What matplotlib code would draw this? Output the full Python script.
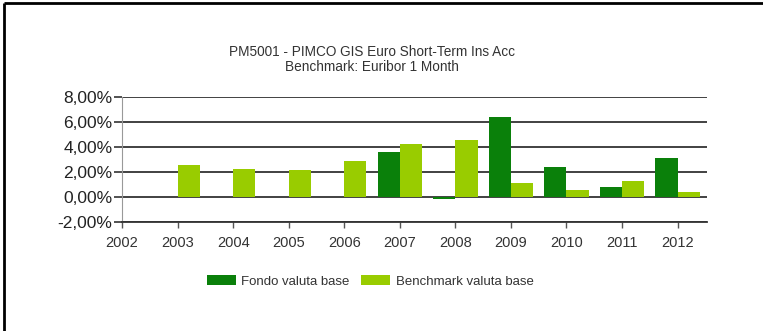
import numpy as np
import matplotlib
matplotlib.use("Agg")
import matplotlib.pyplot as plt
from matplotlib.lines import Line2D

# values in percent
years = [2002, 2003, 2004, 2005, 2006, 2007, 2008, 2009, 2010, 2011, 2012]
fondo = [np.nan, np.nan, np.nan, np.nan, np.nan, 3.64, -0.18, 6.37, 2.43, 0.78, 3.16]
benchmark = [np.nan, 2.57, 2.22, 2.17, 2.92, 4.26, 4.58, 1.15, 0.56, 1.29, 0.43]
yticks = [-2, 0, 2, 4, 6, 8]

title = "PM5001 - PIMCO GIS Euro Short-Term Ins Acc\nBenchmark: Euribor 1 Month"
labels = ["Fondo valuta base", "Benchmark valuta base"]
dark = "#0a800a"
light = "#99cc00"

plt.rcParams["font.family"] = ["Liberation Sans", "DejaVu Sans"]

fig = plt.figure(figsize=(7.63, 3.31), dpi=100)
ax = fig.add_axes([0.160, 0.329, 0.7666, 0.378])

x = np.array(years, dtype=float)
w = 0.40
ax.bar(x - w / 2, fondo, width=w, color=dark, label=labels[0], zorder=3)
ax.bar(x + w / 2, benchmark, width=w, color=light, label=labels[1], zorder=3)

ax.set_xlim(2002, 2012.53)
ax.set_ylim(-2, 8)
ax.set_yticks(yticks)
ax.set_yticklabels(["{:.2f}%".format(v).replace(".", ",") for v in yticks], fontsize=12.5, color="#222222")
ax.set_xticks(years)
ax.set_xticklabels([str(y) for y in years], fontsize=10.5, color="#333333")
ax.tick_params(axis="y", length=6, width=1.2, color="#333333", pad=1)
ax.tick_params(axis="x", length=4, width=1, color="#555555", pad=6)

for v in yticks:
    ax.axhline(v, color="#333333", lw=1.3, zorder=2)

for s in ["top", "right"]:
    ax.spines[s].set_visible(False)
ax.spines["left"].set_color("#999999")
ax.spines["bottom"].set_color("#333333")
ax.spines["bottom"].set_linewidth(1.3)

fig.text(0.488, 0.82, title, ha="center", va="center", fontsize=9.8,
         color="#333333", linespacing=1.15)

fig.legend(loc="center", bbox_to_anchor=(0.485, 0.151), ncol=2, frameon=False,
           fontsize=9.5, handlelength=2.2, handleheight=0.9, handletextpad=0.4,
           columnspacing=0.9, labelcolor="#333333")

# frame lines along top and left edge
fig.add_artist(Line2D([0.005, 1.0], [0.99, 0.99], color="black", lw=2,
                      transform=fig.transFigure, solid_capstyle="butt"))
fig.add_artist(Line2D([0.005, 0.005], [0.0, 0.99], color="black", lw=2,
                      transform=fig.transFigure, solid_capstyle="butt"))

fig.savefig("out.png", dpi=100)
